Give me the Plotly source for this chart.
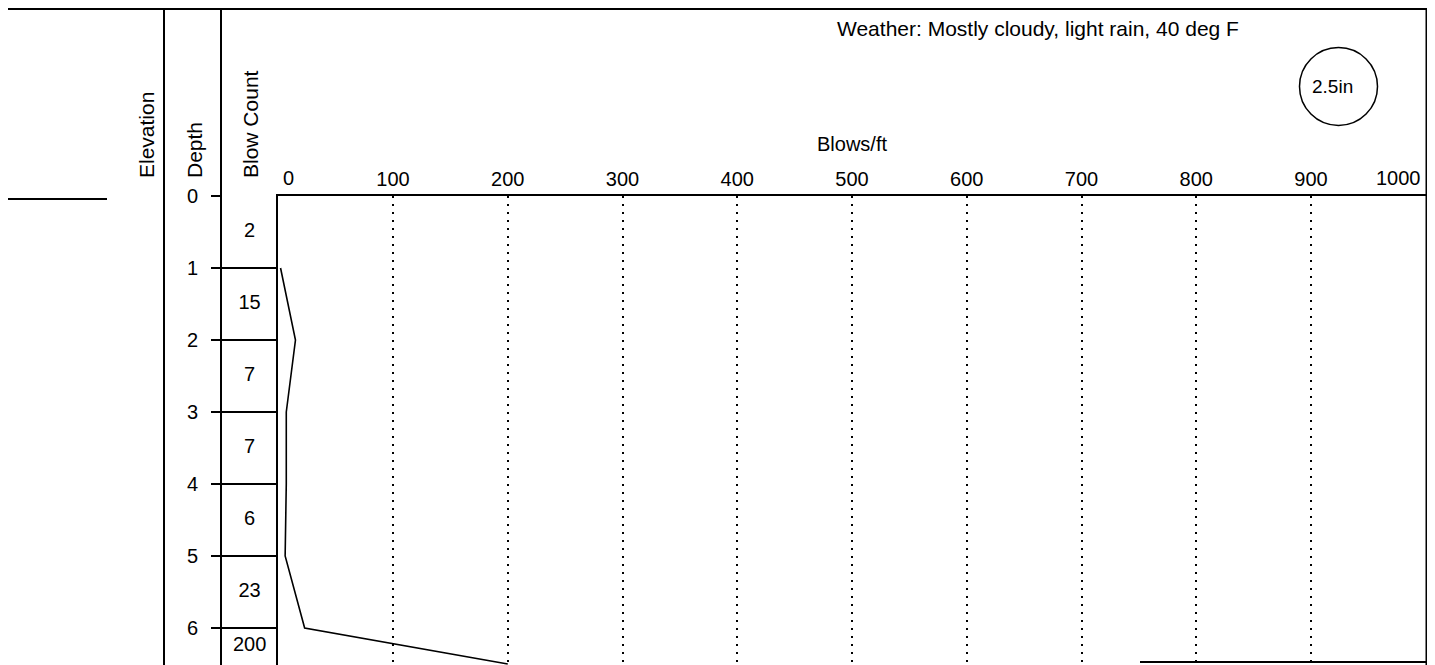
import plotly.graph_objects as go

# ---- data ----
depth_top = [0, 1, 2, 3, 4, 5, 6]
depth_bottom = [1, 2, 3, 4, 5, 6, 6.5]
blow_counts = [2, 15, 7, 7, 6, 23, 200]
blow_labels = [str(b) for b in blow_counts]
depth_ticks = [0, 1, 2, 3, 4, 5, 6]
x_ticks = [100, 200, 300, 400, 500, 600, 700, 800, 900]
x_end_ticks = [0, 1000]
column_headers = ["Elevation", "Depth", "Blow Count"]
x_title = "Blows/ft"
weather_text = "Weather: Mostly cloudy, light rain, 40 deg F"
sampler_text = "2.5in"

# ---- layout helpers (page has an 8px body margin) ----
W, H = 1435, 665
OFF = 8
FONT = "Liberation Sans, Arial, sans-serif"

def vx(x):
    return (x - OFF) / W

def vy(y):
    return 1 - (y - OFF) / H

x0_px, x1_px = 278.25, 1425.75
top_px = 196
ppf = 72.0  # pixels per ft of depth
y_range = [(H + OFF - top_px) / ppf, 0]
dom_y = [0, vy(top_px)]

fig = go.Figure()

# blows/ft profile, plotted at the bottom of each sample interval
fig.add_trace(go.Scatter(
    x=blow_counts, y=depth_bottom, mode="lines",
    line=dict(color="black", width=1.6),
    xaxis="x", yaxis="y", showlegend=False, hoverinfo="skip",
))

# blow count cells
mids = [(a + min(b, y_range[0])) / 2 for a, b in zip(depth_top, depth_bottom)]
fig.add_trace(go.Scatter(
    x=[0.5] * len(blow_labels), y=mids, mode="text", text=blow_labels,
    textfont=dict(family=FONT, size=20, color="black"),
    xaxis="x2", yaxis="y2", showlegend=False, hoverinfo="skip",
))

fig.update_layout(
    width=W, height=H,
    margin=dict(l=0, r=0, t=0, b=0, pad=0, autoexpand=False),
    paper_bgcolor="white", plot_bgcolor="white",
    font=dict(family=FONT, size=20, color="black"),
    xaxis=dict(
        domain=[vx(x0_px), vx(x1_px)], range=[0, 1000], side="top",
        tickvals=x_ticks, ticktext=[str(v) for v in x_ticks],
        ticks="", showline=True, linecolor="black", linewidth=2,
        showgrid=True, gridcolor="black", griddash="2px,6px", gridwidth=1.5,
        zeroline=False, anchor="y", automargin=False,
        title=dict(text=x_title, font=dict(size=20), standoff=11),
        tickfont=dict(size=20), fixedrange=True,
    ),
    yaxis=dict(
        domain=dom_y, range=y_range, showline=True, linecolor="black",
        linewidth=2, showgrid=False, zeroline=False, showticklabels=False,
        ticks="", anchor="x", automargin=False, fixedrange=True,
    ),
    xaxis2=dict(
        domain=[vx(221), vx(x0_px)], range=[0, 1], showgrid=False,
        zeroline=False, showticklabels=False, ticks="", showline=False,
        anchor="y2", automargin=False, fixedrange=True,
    ),
    yaxis2=dict(
        domain=dom_y, range=y_range, tickvals=depth_ticks,
        ticks="outside", ticklen=9, tickwidth=2, tickcolor="black",
        showgrid=True, gridcolor="black", gridwidth=2,
        zeroline=False, showline=False, anchor="x2", automargin=False,
        tickfont=dict(size=20), ticklabelstandoff=9, fixedrange=True,
    ),
)

# end tick labels (0 and 1000) sit inside the frame
for v, anchor, shift in zip(x_end_ticks, ["left", "right"], [3, -3]):
    fig.add_annotation(
        x=v, xref="x", y=vy(178), yref="paper", text=str(v),
        showarrow=False, xanchor=anchor, yanchor="middle", xshift=shift,
        font=dict(family=FONT, size=20, color="black"),
    )

# rotated column headers
for label, xc in zip(column_headers, [146, 194, 250]):
    fig.add_annotation(
        x=vx(xc), xref="paper", y=vy(180), yref="paper", text=label,
        textangle=-90, showarrow=False, xanchor="center", yanchor="bottom",
        font=dict(family=FONT, size=21, color="black"),
    )

fig.add_annotation(
    x=vx(1038), xref="paper", y=vy(29), yref="paper", text=weather_text,
    showarrow=False, xanchor="center", yanchor="middle",
    font=dict(family=FONT, size=21, color="black"),
)
fig.add_annotation(
    x=vx(1332), xref="paper", y=vy(86), yref="paper", text=sampler_text,
    showarrow=False, xanchor="center", yanchor="middle",
    font=dict(family=FONT, size=19, color="black"),
)

# form frame lines
line = dict(color="black", width=2)
frame = [
    (OFF, OFF + 1, W + OFF, OFF + 1),   # top border
    (164, OFF, 164, H + OFF),           # elevation column border
    (221, OFF, 221, H + OFF),           # depth column border
    (OFF, 199, 107, 199),               # left rule
    (1426.5, OFF, 1426.5, H + OFF),     # right border
    (1140, 662, 1426.5, 662),           # bottom rule
]
for xa, ya, xb, yb in frame:
    fig.add_shape(type="line", xref="paper", yref="paper",
                  x0=vx(xa), y0=vy(ya), x1=vx(xb), y1=vy(yb), line=line)

fig.add_shape(type="circle", xref="paper", yref="paper",
              x0=vx(1299.5), y0=vy(47.5), x1=vx(1377.5), y1=vy(125.5),
              line=dict(color="black", width=1.5))

fig.write_html("out.html")
